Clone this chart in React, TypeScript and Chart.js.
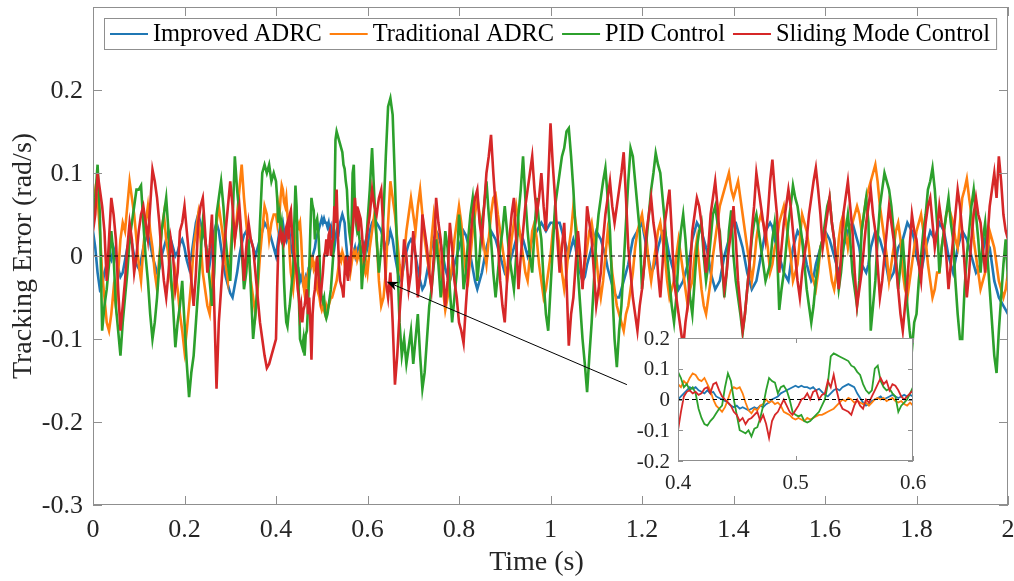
import React, { useEffect, useRef } from "react";
import { Chart, registerables } from "chart.js";
Chart.register(...registerables);

// ---------- data ----------
const T_STEP = 0.005; // sampling of the full record (s)
const ZOOM_START = 0.4; // zoom window start (s)
const ZOOM_STEP = 0.0025; // fine sampling inside the zoom window (s)

// samples 0..2 s every 5 ms (null inside the 0.4–0.6 s zoom window, which uses the fine samples below)
const improvedADRC = [
  0.03, 0.01, -0.02, -0.04, -0.035, -0.02, -0.01, 0.0, -0.005, 0.01,
  0.0, -0.015, -0.025, -0.02, -0.005, 0.01, 0.02, 0.015, 0.0, -0.01,
  -0.015, -0.005, 0.01, 0.02, 0.025, 0.015, 0.0, -0.01, -0.02, -0.015,
  0.0, 0.01, 0.02, 0.03, 0.02, 0.01, 0.0, 0.005, 0.015, 0.02,
  0.01, -0.005, -0.015, 0.0, 0.02, 0.04, 0.05, 0.04, 0.03, 0.02,
  0.0, -0.01, 0.01, 0.03, 0.04, 0.03, 0.01, -0.01, -0.025, -0.035,
  -0.045, -0.05, -0.035, -0.02, 0.0, 0.015, 0.025, 0.03, 0.025, 0.02,
  0.01, 0.0, 0.01, 0.02, 0.03, 0.04, 0.035, 0.03, 0.02, 0.01,
  null, null, null, null, null, null, null, null, null, null,
  null, null, null, null, null, null, null, null, null, null,
  null, null, null, null, null, null, null, null, null, null,
  null, null, null, null, null, null, null, null, null, null,
  null, 0.03, 0.04, 0.045, 0.04, 0.035, 0.03, 0.02, 0.01, 0.015,
  0.03, 0.02, 0.0, -0.015, -0.03, -0.025, -0.01, 0.005, 0.015, 0.02,
  0.015, 0.0, -0.015, -0.03, -0.04, -0.035, -0.02, -0.005, 0.01, 0.02,
  0.03, 0.025, 0.015, 0.0, -0.015, -0.025, -0.03, -0.02, -0.01, 0.0,
  0.01, 0.02, 0.03, 0.025, 0.015, 0.0, -0.015, -0.03, -0.04, -0.03,
  -0.02, -0.005, 0.01, 0.02, 0.03, 0.025, 0.02, 0.01, 0.0, -0.01,
  -0.02, -0.015, -0.01, 0.0, 0.01, 0.02, 0.03, 0.025, 0.02, 0.01,
  0.0, 0.01, 0.02, 0.025, 0.03, 0.035, 0.04, 0.035, 0.03, 0.035,
  0.04, 0.04, 0.035, 0.04, 0.04, 0.03, 0.02, 0.01, 0.0, 0.01,
  0.02, 0.01, -0.01, -0.02, -0.03, -0.025, -0.01, 0.0, 0.01, 0.02,
  0.03, 0.025, 0.02, 0.01, 0.0, -0.015, -0.025, -0.035, -0.045, -0.05,
  -0.05, -0.04, -0.03, -0.02, -0.01, 0.005, 0.02, 0.025, 0.03, 0.035,
  0.04, 0.025, 0.01, -0.005, -0.02, -0.015, -0.005, 0.01, 0.02, 0.03,
  0.03, 0.015, 0.0, -0.01, -0.02, -0.03, -0.04, -0.035, -0.03, -0.02,
  -0.01, 0.0, 0.02, 0.03, 0.04, 0.035, 0.03, 0.02, 0.01, 0.0,
  -0.02, -0.03, -0.04, -0.035, -0.03, -0.015, 0.0, 0.01, 0.02, 0.03,
  0.04, 0.04, 0.03, 0.02, 0.01, -0.005, -0.02, -0.03, -0.04, -0.035,
  -0.03, -0.015, 0.0, 0.015, 0.03, 0.035, 0.04, 0.035, 0.02, 0.01,
  0.0, -0.01, -0.02, -0.025, -0.03, -0.01, 0.01, 0.02, 0.03, 0.025,
  0.02, 0.005, -0.01, -0.02, -0.03, -0.025, -0.01, 0.0, 0.01, 0.02,
  0.03, 0.025, 0.02, 0.01, 0.0, -0.01, -0.02, -0.01, 0.01, 0.02,
  0.03, 0.035, 0.04, 0.03, 0.02, 0.01, -0.01, -0.015, -0.02, -0.01,
  0.01, 0.02, 0.03, 0.025, 0.02, 0.01, 0.0, -0.015, -0.03, -0.025,
  -0.02, -0.005, 0.01, 0.015, 0.02, 0.03, 0.04, 0.035, 0.03, 0.02,
  0.0, -0.01, -0.02, -0.005, 0.01, 0.02, 0.03, 0.025, 0.02, 0.03,
  0.04, 0.035, 0.03, 0.015, 0.0, -0.01, -0.02, -0.005, 0.01, 0.02,
  0.03, 0.025, 0.02, 0.01, 0.0, -0.01, -0.02, -0.015, -0.01, 0.005,
  0.02, 0.015, 0.01, -0.01, -0.03, -0.04, -0.05, -0.055, -0.06, -0.065,
  -0.07,
];

const traditionalADRC = [
  0.06, 0.08, 0.07, 0.03, -0.02, -0.05, -0.08, -0.09, -0.07, -0.04,
  -0.06, -0.02, 0.02, 0.04, 0.03, 0.06, 0.09, 0.07, 0.05, 0.02,
  -0.01, -0.03, 0.01, 0.04, 0.06, 0.03, 0.01, -0.02, -0.04, 0.0,
  0.03, 0.05, 0.02, 0.0, -0.03, -0.05, -0.02, -0.04, -0.07, -0.09,
  -0.115, -0.09, -0.06, -0.03, 0.01, 0.03, 0.05, 0.02, -0.02, -0.04,
  -0.06, -0.07, -0.03, 0.01, 0.04, 0.06, 0.04, 0.02, -0.01, -0.03,
  0.0, 0.04, 0.02, 0.05, 0.08, 0.11, 0.07, 0.04, 0.01, -0.03,
  -0.05, -0.07, -0.04, 0.0, 0.03, 0.06, 0.05, 0.02, 0.04, 0.05,
  null, null, null, null, null, null, null, null, null, null,
  null, null, null, null, null, null, null, null, null, null,
  null, null, null, null, null, null, null, null, null, null,
  null, null, null, null, null, null, null, null, null, null,
  null, 0.01, 0.03, 0.05, 0.02, -0.03, -0.06, -0.05, -0.02, 0.04,
  0.09, 0.07, 0.05, 0.02, -0.01, -0.03, 0.0, 0.03, 0.05, 0.07,
  0.05, 0.03, 0.06, 0.08, 0.05, 0.02, 0.0, -0.02, 0.02, 0.05,
  0.03, 0.01, -0.02, -0.04, -0.065, -0.05, -0.03, -0.01, 0.02, 0.04,
  0.06, 0.04, 0.01, -0.02, -0.03, 0.0, 0.03, 0.05, 0.07, 0.05,
  0.03, 0.01, -0.01, 0.02, 0.05, 0.07, 0.074, 0.05, 0.03, 0.01,
  -0.01, -0.03, -0.01, 0.02, 0.04, 0.06, 0.04, 0.02, 0.0, -0.02,
  -0.03, 0.0, 0.03, 0.04, 0.02, -0.01, -0.03, -0.05, -0.04, -0.02,
  0.0, 0.03, 0.05, 0.03, 0.01, -0.02, -0.04, -0.02, 0.01, 0.03,
  0.06, 0.04, 0.02, -0.01, -0.03, -0.01, 0.01, 0.03, 0.04, 0.02,
  0.0, -0.03, -0.05, -0.03, 0.0, 0.03, 0.01, -0.02, -0.04, -0.06,
  -0.07, -0.08, -0.09, -0.07, -0.06, -0.04, -0.02, 0.01, 0.03, 0.04,
  0.05, 0.03, 0.02, -0.01, -0.03, -0.01, 0.01, 0.03, 0.04, 0.02,
  0.0, -0.03, -0.05, -0.04, -0.03, 0.0, 0.02, 0.0, -0.02, -0.04,
  -0.06, -0.04, -0.03, 0.0, 0.02, -0.01, -0.04, -0.06, -0.07, -0.05,
  -0.03, 0.0, 0.02, 0.04, 0.06, 0.07, 0.08, 0.09, 0.1, 0.08,
  0.07, 0.08, 0.09, 0.07, 0.05, 0.03, 0.01, -0.01, -0.03, -0.01,
  0.02, 0.04, 0.05, 0.04, 0.03, 0.01, -0.02, -0.01, 0.01, 0.02,
  0.04, 0.05, 0.06, 0.04, 0.02, 0.0, -0.03, -0.02, -0.01, 0.02,
  0.05, 0.04, 0.03, 0.01, -0.02, -0.03, -0.04, -0.02, 0.01, 0.02,
  0.03, 0.01, -0.01, -0.03, -0.04, -0.02, 0.02, 0.04, 0.05, 0.03,
  0.01, 0.03, 0.04, 0.05, 0.06, 0.05, 0.03, 0.05, 0.07, 0.08,
  0.09, 0.1, 0.11, 0.09, 0.06, 0.04, 0.02, 0.0, -0.03, -0.01,
  0.01, 0.03, 0.04, 0.02, -0.02, -0.04, -0.05, -0.03, -0.01, 0.01,
  0.03, 0.04, 0.05, 0.03, 0.02, -0.01, -0.03, -0.05, -0.04, -0.02,
  -0.02, 0.01, 0.03, 0.05, 0.06, 0.05, 0.04, 0.02, 0.01, 0.04,
  0.07, 0.08, 0.093, 0.07, 0.05, 0.02, 0.0, -0.02, -0.04, -0.03,
  -0.02, 0.0, 0.03, 0.02, 0.01, -0.01, -0.03, -0.04, -0.05, -0.04,
  -0.02,
];

const pidControl = [
  0.04, 0.07, 0.11, 0.05, -0.09, -0.06, -0.04, -0.01, 0.03, 0.0,
  -0.06, -0.09, -0.12, -0.08, -0.05, -0.02, 0.02, 0.04, 0.06, 0.08,
  0.08, 0.085, 0.04, 0.0, -0.03, -0.07, -0.1, -0.08, -0.05, -0.01,
  0.03, 0.05, 0.07, 0.03, -0.02, -0.06, -0.11, -0.08, -0.06, -0.03,
  -0.08, -0.13, -0.17, -0.14, -0.12, -0.08, -0.04, 0.0, 0.04, 0.02,
  0.0, -0.03, -0.06, -0.02, 0.05, 0.07, 0.09, 0.06, 0.02, -0.01,
  -0.03, 0.04, 0.12, 0.08, 0.05, 0.01, -0.04, -0.02, 0.02, -0.04,
  -0.1, -0.07, -0.03, 0.04, 0.1, 0.11, 0.1, 0.11, 0.09, 0.1,
  null, null, null, null, null, null, null, null, null, null,
  null, null, null, null, null, null, null, null, null, null,
  null, null, null, null, null, null, null, null, null, null,
  null, null, null, null, null, null, null, null, null, null,
  null, 0.08, 0.13, 0.07, 0.02, -0.02, 0.01, 0.05, 0.12, 0.18,
  0.19, 0.17, 0.09, 0.0, -0.08, -0.12, -0.1, -0.13, -0.11, -0.09,
  -0.13, -0.1, -0.07, -0.12, -0.16, -0.14, -0.1, -0.06, -0.04, -0.01,
  0.02, -0.01, -0.05, -0.02, 0.03, 0.01, -0.04, -0.08, -0.05, -0.02,
  0.05, 0.02, -0.04, -0.02, 0.02, 0.05, 0.07, 0.03, -0.03, 0.0,
  0.04, 0.06, 0.09, 0.05, 0.02, -0.02, -0.05, -0.02, 0.01, 0.03,
  0.06, 0.03, 0.0, -0.02, -0.04, 0.0, 0.05, 0.08, 0.12, 0.07,
  0.03, 0.0, -0.02, 0.03, 0.07, 0.04, 0.02, -0.03, -0.07, -0.09,
  -0.04, 0.01, 0.06, 0.08, 0.1, 0.12, 0.13, 0.15, 0.154, 0.12,
  0.08, 0.03, -0.02, -0.06, -0.1, -0.13, -0.164, -0.12, -0.08, -0.03,
  0.02, 0.05, 0.07, 0.09, 0.106, 0.07, 0.03, -0.04, -0.1, -0.134,
  -0.09, -0.06, -0.01, 0.04, 0.09, 0.13, 0.12, 0.09, 0.06, 0.03,
  -0.04, -0.01, 0.02, 0.05, 0.08, 0.1, 0.124, 0.11, 0.1, 0.07,
  0.04, 0.0, -0.03, -0.06, -0.08, -0.05, 0.0, 0.03, 0.05, 0.02,
  -0.02, -0.05, -0.07, -0.03, 0.01, 0.03, 0.04, 0.0, -0.03, -0.01,
  0.02, 0.05, 0.06, 0.04, 0.03, -0.01, -0.05, -0.02, 0.03, 0.055,
  0.0, -0.03, -0.05, -0.07, -0.093, -0.07, -0.04, -0.01, 0.02, 0.04,
  0.05, 0.03, 0.01, -0.01, -0.03, -0.02, -0.01, 0.02, 0.04, 0.01,
  -0.065, -0.04, -0.02, 0.01, 0.04, 0.06, 0.085, 0.07, 0.06, 0.04,
  0.02, -0.01, -0.04, -0.06, -0.08, -0.06, -0.03, -0.01, 0.01, 0.02,
  0.04, 0.06, 0.07, 0.04, 0.02, -0.01, -0.04, -0.02, 0.01, 0.03,
  0.05, 0.02, -0.02, -0.04, -0.06, -0.03, 0.03, 0.05, 0.07, 0.04,
  -0.09, -0.06, -0.03, 0.02, 0.06, 0.08, 0.1, 0.09, 0.08, 0.06,
  0.03, 0.0, -0.04, -0.01, 0.02, -0.02, -0.06, -0.09, -0.113, -0.08,
  -0.07, -0.03, 0.0, 0.03, 0.05, 0.08, 0.09, 0.106, 0.08, 0.04,
  -0.02, 0.01, 0.03, 0.05, 0.07, 0.04, 0.02, -0.03, -0.07, -0.1,
  -0.1, -0.04, 0.0, 0.03, 0.06, 0.08, 0.05, 0.02, -0.02, 0.02,
  0.04, 0.0, -0.04, -0.08, -0.12, -0.141, -0.09, -0.05, -0.01, 0.02,
  -0.03,
];

const slidingMode = [
  0.03, 0.05, 0.1, 0.08, 0.06, 0.03, -0.03, 0.02, 0.07, 0.05,
  0.02, -0.04, -0.09, -0.06, -0.03, 0.01, 0.04, 0.02, -0.02, 0.0,
  0.03, 0.05, 0.06, 0.04, 0.02, 0.06, 0.104, 0.09, 0.07, 0.04,
  0.0, -0.03, -0.05, -0.02, 0.02, 0.0, -0.04, -0.02, 0.03, 0.04,
  0.06, 0.03, 0.0, -0.03, -0.06, -0.02, 0.04, 0.06, 0.07, 0.03,
  -0.02, 0.01, 0.05, -0.06, -0.16, -0.08, -0.04, 0.0, 0.03, 0.06,
  0.09, 0.06, 0.02, 0.04, 0.06, 0.02, -0.03, 0.01, 0.04, 0.02,
  0.01, -0.02, -0.05, -0.08, -0.1, -0.12, -0.135, -0.13, -0.12, -0.11,
  null, null, null, null, null, null, null, null, null, null,
  null, null, null, null, null, null, null, null, null, null,
  null, null, null, null, null, null, null, null, null, null,
  null, null, null, null, null, null, null, null, null, null,
  null, 0.05, 0.08, 0.06, 0.05, 0.07, 0.08, 0.03, -0.03, -0.05,
  -0.02, -0.08, -0.155, -0.12, -0.07, -0.03, 0.02, 0.0, -0.04, -0.02,
  0.03, 0.0, -0.05, -0.02, 0.05, 0.03, 0.01, -0.02, -0.04, 0.0,
  0.07, 0.04, 0.02, -0.02, -0.06, -0.03, 0.04, 0.01, -0.03, -0.05,
  -0.08, -0.09, -0.105, -0.06, -0.02, 0.02, 0.05, 0.07, 0.08, 0.04,
  0.02, 0.06, 0.1, 0.12, 0.146, 0.1, 0.06, 0.02, -0.03, -0.06,
  -0.08, -0.03, 0.02, 0.05, 0.07, 0.02, -0.04, 0.0, 0.03, 0.06,
  0.08, 0.1, 0.12, 0.08, 0.05, 0.07, 0.1, 0.06, 0.03, 0.09,
  0.16, 0.11, 0.07, 0.02, -0.02, 0.01, 0.04, -0.03, -0.108, -0.07,
  -0.05, -0.01, 0.03, 0.0, -0.04, 0.0, 0.06, 0.04, 0.02, -0.02,
  -0.06, -0.04, -0.02, 0.02, 0.05, 0.07, 0.09, 0.06, 0.04, 0.06,
  0.08, 0.1, 0.125, 0.07, 0.01, -0.02, -0.05, -0.07, -0.09, -0.06,
  -0.04, -0.01, 0.03, 0.05, 0.07, 0.04, 0.02, -0.02, -0.05, -0.01,
  0.04, 0.06, 0.08, 0.03, -0.03, -0.05, -0.07, -0.09, -0.11, -0.08,
  -0.06, -0.02, 0.03, 0.05, 0.07, 0.06, 0.04, 0.01, -0.02, 0.01,
  0.05, 0.07, 0.09, 0.06, 0.02, -0.01, -0.04, -0.02, 0.01, 0.03,
  0.06, 0.02, -0.03, -0.06, -0.09, -0.07, -0.04, -0.01, 0.03, 0.06,
  0.1, 0.08, 0.06, 0.04, 0.02, 0.05, 0.09, 0.116, 0.08, 0.05,
  -0.02, 0.01, 0.04, 0.06, 0.08, 0.06, 0.03, 0.0, -0.03, -0.05,
  -0.02, 0.0, 0.02, 0.05, 0.07, 0.09, 0.106, 0.08, 0.05, 0.01,
  0.03, 0.05, 0.07, 0.04, 0.02, -0.01, -0.04, 0.0, 0.05, 0.07,
  0.09, 0.06, 0.03, -0.02, -0.06, -0.04, -0.02, 0.01, 0.04, 0.06,
  0.08, 0.05, 0.03, -0.01, -0.05, -0.03, 0.0, 0.03, 0.06, 0.04,
  0.02, -0.01, -0.04, -0.07, -0.09, -0.06, -0.03, 0.01, 0.05, 0.03,
  0.02, -0.01, -0.03, 0.01, 0.04, 0.06, 0.07, 0.04, 0.01, 0.03,
  0.06, 0.04, 0.03, 0.0, -0.04, -0.01, 0.02, 0.05, 0.08, 0.06,
  0.03, -0.01, -0.05, -0.02, 0.02, 0.05, 0.07, 0.05, 0.04, 0.01,
  -0.02, 0.02, 0.06, 0.08, 0.1, 0.07, 0.12, 0.09, 0.05, 0.03,
  0.02,
];

// fine samples 0.4..0.6 s every 2.5 ms (zoom window, also used by the main plot there)
const zoomImproved = [
  0.0, 0.01, 0.02, 0.03, 0.04, 0.035, 0.04, 0.03, 0.025, 0.02,
  0.03, 0.02, 0.025, 0.01, 0.005, 0.0, -0.005, -0.01, -0.02, -0.025,
  -0.02, -0.03, -0.025, -0.03, -0.035, -0.03, -0.025, -0.03, -0.02, -0.025,
  -0.015, -0.01, 0.0, 0.005, 0.01, 0.02, 0.025, 0.03, 0.035, 0.04,
  0.045, 0.04, 0.045, 0.04, 0.04, 0.035, 0.04, 0.03, 0.035, 0.025,
  0.015, 0.01, 0.02, 0.03, 0.035, 0.03, 0.04, 0.045, 0.05, 0.045,
  0.04, 0.02, 0.005, -0.01, -0.02, -0.015, -0.005, 0.0, 0.005, 0.01,
  0.0, 0.005, 0.01, 0.015, 0.01, 0.005, 0.01, 0.015, 0.01, 0.015,
  0.01,
];
const zoomTraditional = [
  0.05, 0.04, 0.06, 0.05, 0.07, 0.085, 0.08, 0.065, 0.06, 0.07,
  0.05, 0.03, 0.0, -0.02, -0.03, -0.04, -0.025, 0.0, 0.03, 0.04,
  0.035, 0.04, 0.02, -0.01, -0.035, -0.045, -0.03, -0.035, -0.02, -0.015,
  0.0, -0.01, -0.005, -0.015, -0.01, -0.02, -0.04, -0.045, -0.05, -0.06,
  -0.065, -0.06, -0.065, -0.07, -0.06, -0.065, -0.06, -0.055, -0.05, -0.05,
  -0.045, -0.04, -0.035, -0.03, -0.02, -0.01, 0.0, -0.005, 0.005, 0.0,
  -0.01, -0.005, -0.01, -0.015, -0.01, -0.02, -0.01, 0.0, 0.005, 0.0,
  0.005, -0.005, 0.0, 0.005, -0.005, -0.01, -0.005, -0.015, -0.02, -0.01,
  -0.02,
];
const zoomPID = [
  0.09, 0.07, 0.04, 0.05, 0.03, 0.04, 0.02, -0.03, -0.06, -0.08,
  -0.085, -0.07, -0.06, -0.045, -0.03, -0.02, 0.04, 0.085, 0.06, 0.0,
  -0.05, -0.1, -0.105, -0.11, -0.1, -0.12, -0.095, -0.09, -0.06, -0.02,
  0.03, 0.07, 0.06, 0.055, 0.02, 0.04, 0.045, 0.03, 0.0, -0.04,
  -0.05, -0.055, -0.05, -0.07, -0.075, -0.07, -0.06, -0.05, -0.04, -0.02,
  0.0, 0.05, 0.14, 0.15, 0.145, 0.14, 0.135, 0.13, 0.125, 0.11,
  0.105, 0.09, 0.08, 0.05, 0.03, 0.02, 0.03, 0.1, 0.11, 0.06,
  0.04, 0.03, 0.035, 0.02, 0.01, -0.04, -0.02, -0.01, 0.0, 0.02,
  0.04,
];
const zoomSliding = [
  -0.1, -0.04, 0.01, 0.025, 0.03, 0.02, 0.025, 0.015, 0.02, 0.035,
  0.04, 0.02, 0.05, 0.055, 0.03, 0.01, 0.0, -0.01, -0.02, -0.04,
  -0.05, -0.07, -0.06, -0.08, -0.065, -0.06, -0.05, -0.04, -0.07, -0.05,
  -0.08, -0.125, -0.07, -0.05, -0.04, -0.02, 0.0, -0.02, -0.04, -0.05,
  -0.035, -0.02, 0.0, 0.005, 0.02, 0.0, 0.025, 0.03, 0.0, 0.015,
  0.02, 0.06, 0.04, 0.08, 0.03, -0.01, -0.03, -0.035, -0.04, -0.05,
  -0.02, 0.0, -0.02, -0.03, 0.0, -0.01, 0.01, 0.03, 0.05, 0.07,
  0.05, 0.06, 0.03, 0.05, 0.045, 0.03, 0.01, 0.0, 0.01, 0.02,
  0.03,
];

const seriesNames = ["Improved ADRC", "Traditional ADRC", "PID Control", "Sliding Mode Control"];
const seriesColors = ["#1f77b4", "#ff7f0e", "#2ca02c", "#d62728"];

const xTicks = [0, 0.2, 0.4, 0.6, 0.8, 1, 1.2, 1.4, 1.6, 1.8, 2];
const xTickLabels = ["0", "0.2", "0.4", "0.6", "0.8", "1", "1.2", "1.4", "1.6", "1.8", "2"];
const yTicks = [-0.3, -0.2, -0.1, 0, 0.1, 0.2];
const yTickLabels = ["-0.3", "-0.2", "-0.1", "0", "0.1", "0.2"];
const insetXTicks = [0.4, 0.5, 0.6];
const insetXTickLabels = ["0.4", "0.5", "0.6"];
const insetYTicks = [-0.2, -0.1, 0, 0.1, 0.2];
const insetYTickLabels = ["-0.2", "-0.1", "0", "0.1", "0.2"];

const xTitle = "Time (s)";
const yTitle = "Tracking Error (rad/s)";

// arrow annotation (data coordinates of the main axes)
const arrowHead = { x: 0.642, y: -0.031 };
const arrowTail = { x: 1.167, y: -0.155 };

// ---------- helpers ----------
const FONT = '"Liberation Serif", "Times New Roman", Times, serif';
const TEXT = "#262626";
const BOX = "#8f8f8f";

type Pt = { x: number; y: number };

function finePoints(fine: number[]): Pt[] {
  return fine.map((v, j) => ({ x: +(ZOOM_START + j * ZOOM_STEP).toFixed(4), y: v }));
}
function mergeSeries(coarse: (number | null)[], fine: number[]): Pt[] {
  const pts: Pt[] = [];
  coarse.forEach((v, i) => {
    if (v !== null) pts.push({ x: +(i * T_STEP).toFixed(4), y: v });
  });
  pts.push(...finePoints(fine));
  pts.sort((a, b) => a.x - b.x);
  return pts;
}

function drawFrame(
  chart: any,
  xt: number[],
  xl: string[],
  yt: number[],
  yl: string[],
  tickLen: number,
  fontPx: number,
  xLabelGap: number,
  yLabelGap: number
) {
  const ctx: CanvasRenderingContext2D = chart.ctx;
  const { left, right, top, bottom } = chart.chartArea;
  const xs = chart.scales.x;
  const ys = chart.scales.y;
  ctx.save();
  const y0 = ys.getPixelForValue(0);
  ctx.strokeStyle = "#000";
  ctx.lineWidth = 1.2;
  ctx.setLineDash([4, 3]);
  ctx.beginPath();
  ctx.moveTo(left, y0);
  ctx.lineTo(right, y0);
  ctx.stroke();
  ctx.setLineDash([]);
  ctx.strokeStyle = BOX;
  ctx.lineWidth = 1;
  ctx.strokeRect(left + 0.5, top + 0.5, right - left - 1, bottom - top - 1);
  ctx.beginPath();
  xt.forEach((v) => {
    const px = Math.round(xs.getPixelForValue(v)) + 0.5;
    ctx.moveTo(px, bottom);
    ctx.lineTo(px, bottom - tickLen);
    ctx.moveTo(px, top);
    ctx.lineTo(px, top + tickLen);
  });
  yt.forEach((v) => {
    const py = Math.round(ys.getPixelForValue(v)) + 0.5;
    ctx.moveTo(left, py);
    ctx.lineTo(left + tickLen, py);
    ctx.moveTo(right, py);
    ctx.lineTo(right - tickLen, py);
  });
  ctx.stroke();
  ctx.fillStyle = TEXT;
  ctx.font = `${fontPx}px ${FONT}`;
  ctx.textAlign = "center";
  ctx.textBaseline = "middle";
  xt.forEach((v, i) => ctx.fillText(xl[i], xs.getPixelForValue(v), bottom + xLabelGap));
  ctx.textAlign = "right";
  yt.forEach((v, i) => ctx.fillText(yl[i], left - yLabelGap, ys.getPixelForValue(v) + 1));
  ctx.restore();
}

const mainDecor = {
  id: "mainDecor",
  afterDatasetsDraw(chart: any) {
    const ctx: CanvasRenderingContext2D = chart.ctx;
    const { left, right, top, bottom } = chart.chartArea;
    const xs = chart.scales.x;
    const ys = chart.scales.y;

    drawFrame(chart, xTicks, xTickLabels, yTicks, yTickLabels, 9, 26, 25, 10);

    ctx.save();
    // arrow
    const hx = xs.getPixelForValue(arrowHead.x);
    const hy = ys.getPixelForValue(arrowHead.y);
    const tx = xs.getPixelForValue(arrowTail.x);
    const ty = ys.getPixelForValue(arrowTail.y);
    const a = Math.atan2(hy - ty, hx - tx);
    ctx.strokeStyle = "#000";
    ctx.lineWidth = 1;
    ctx.beginPath();
    ctx.moveTo(tx, ty);
    ctx.lineTo(hx - 8 * Math.cos(a), hy - 8 * Math.sin(a));
    ctx.stroke();
    ctx.fillStyle = "#000";
    ctx.beginPath();
    ctx.moveTo(hx, hy);
    ctx.lineTo(hx - 12 * Math.cos(a - 0.38), hy - 12 * Math.sin(a - 0.38));
    ctx.lineTo(hx - 8 * Math.cos(a), hy - 8 * Math.sin(a));
    ctx.lineTo(hx - 12 * Math.cos(a + 0.38), hy - 12 * Math.sin(a + 0.38));
    ctx.closePath();
    ctx.fill();

    // legend
    ctx.font = `24.4px ${FONT}`;
    const lineLen = 38;
    const gapLT = 5;
    const gapItem = 8;
    const pad = 6;
    const widths = seriesNames.map((n) => ctx.measureText(n).width);
    const total = pad * 2 + widths.reduce((s, w) => s + lineLen + gapLT + w, 0) + gapItem * (seriesNames.length - 1);
    const lx = left + 11;
    const ly = top + 11;
    const lh = 31;
    ctx.fillStyle = "#fff";
    ctx.fillRect(lx, ly, total, lh);
    ctx.strokeStyle = BOX;
    ctx.lineWidth = 1;
    ctx.strokeRect(lx + 0.5, ly + 0.5, total, lh);
    let cx = lx + pad;
    const cy = ly + lh / 2 + 0.5;
    ctx.textAlign = "left";
    ctx.textBaseline = "middle";
    seriesNames.forEach((n, i) => {
      ctx.strokeStyle = seriesColors[i];
      ctx.lineWidth = 2;
      ctx.beginPath();
      ctx.moveTo(cx, cy);
      ctx.lineTo(cx + lineLen, cy);
      ctx.stroke();
      cx += lineLen + gapLT;
      ctx.fillStyle = "#000";
      ctx.fillText(n, cx, cy + 1);
      cx += widths[i] + gapItem;
    });

    // axis titles
    ctx.fillStyle = TEXT;
    ctx.font = `28px ${FONT}`;
    ctx.textAlign = "center";
    ctx.textBaseline = "middle";
    ctx.fillText(xTitle, (left + right) / 2 - 14, bottom + 58);
    ctx.save();
    ctx.translate(24, (top + bottom) / 2);
    ctx.rotate(-Math.PI / 2);
    ctx.fillText(yTitle, 0, 0);
    ctx.restore();
    ctx.restore();
  },
};

const insetDecor = {
  id: "insetDecor",
  beforeDatasetsDraw(chart: any) {
    const ctx: CanvasRenderingContext2D = chart.ctx;
    const { left, right, top, bottom } = chart.chartArea;
    ctx.save();
    ctx.fillStyle = "#fff";
    ctx.fillRect(left, top, right - left, bottom - top);
    ctx.restore();
  },
  afterDatasetsDraw(chart: any) {
    drawFrame(chart, insetXTicks, insetXTickLabels, insetYTicks, insetYTickLabels, 5, 21, 22, 8);
  },
};

export default function App() {
  const mainRef = useRef<HTMLCanvasElement>(null);
  const insetRef = useRef<HTMLCanvasElement>(null);

  useEffect(() => {
    const mainSeries = [
      mergeSeries(improvedADRC, zoomImproved),
      mergeSeries(traditionalADRC, zoomTraditional),
      mergeSeries(pidControl, zoomPID),
      mergeSeries(slidingMode, zoomSliding),
    ];
    const insetSeries = [
      finePoints(zoomImproved),
      finePoints(zoomTraditional),
      finePoints(zoomPID),
      finePoints(zoomSliding),
    ];
    const mkDatasets = (series: Pt[][], width: number) =>
      series.map((d, i) => ({
        label: seriesNames[i],
        data: d,
        borderColor: seriesColors[i],
        backgroundColor: seriesColors[i],
        borderWidth: width,
        pointRadius: 0,
        tension: 0,
        fill: false,
        order: seriesNames.length - i,
      }));

    const scales = (min: number, max: number, ymin: number, ymax: number) => ({
      x: { type: "linear" as const, min, max, display: false },
      y: { type: "linear" as const, min: ymin, max: ymax, display: false },
    });

    const main = new Chart(mainRef.current as HTMLCanvasElement, {
      type: "line",
      data: { datasets: mkDatasets(mainSeries, 2.6) as any },
      options: {
        animation: false,
        responsive: false,
        devicePixelRatio: 1,
        layout: { padding: { left: 93, top: 7, right: 6, bottom: 76 } },
        plugins: { legend: { display: false }, tooltip: { enabled: false } },
        scales: scales(0, 2, -0.3, 0.3) as any,
      },
      plugins: [mainDecor],
    });

    const inset = new Chart(insetRef.current as HTMLCanvasElement, {
      type: "line",
      data: { datasets: mkDatasets(insetSeries, 1.8) as any },
      options: {
        animation: false,
        responsive: false,
        devicePixelRatio: 1,
        layout: { padding: { left: 88, top: 13, right: 27, bottom: 39 } },
        plugins: { legend: { display: false }, tooltip: { enabled: false } },
        scales: scales(0.4, 0.6, -0.2, 0.2) as any,
      },
      plugins: [insetDecor],
    });

    return () => {
      main.destroy();
      inset.destroy();
    };
  }, []);

  return (
    <div style={{ position: "absolute", left: 0, top: 0, width: 1014, height: 581, background: "#fff", overflow: "hidden" }}>
      <canvas ref={mainRef} width={1014} height={581} style={{ position: "absolute", left: 0, top: 0 }} />
      <canvas ref={insetRef} width={350} height={175} style={{ position: "absolute", left: 590, top: 325 }} />
    </div>
  );
}
